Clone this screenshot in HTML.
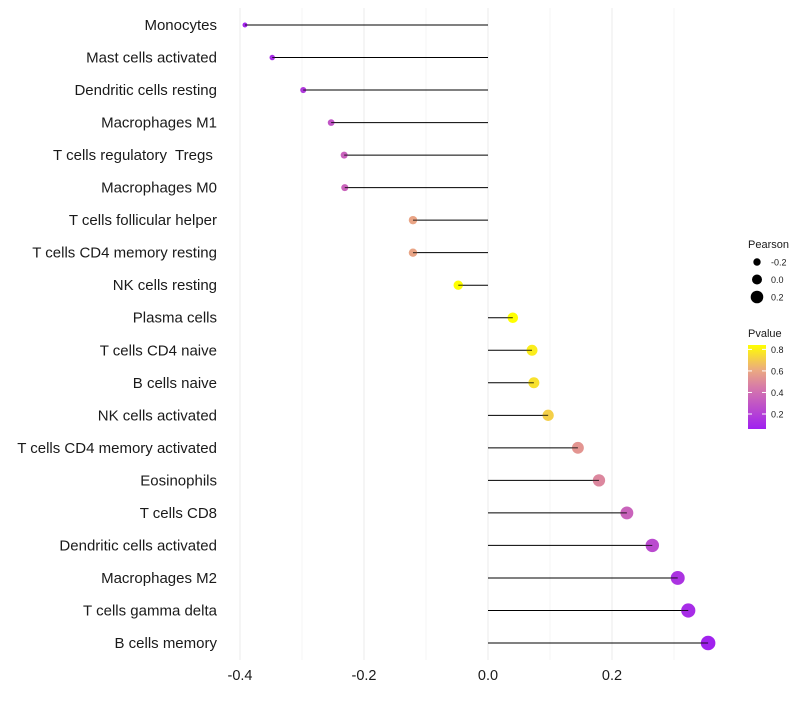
<!DOCTYPE html>
<html><head><meta charset="utf-8"><style>
body{margin:0;background:#fff;font-family:"Liberation Sans",sans-serif}
svg text{font-family:"Liberation Sans",sans-serif;white-space:pre}
</style></head><body>
<svg id="chart" width="800" height="700"></svg>
<script>
const categories=["Monocytes","Mast cells activated","Dendritic cells resting","Macrophages M1","T cells regulatory  Tregs ","Macrophages M0","T cells follicular helper","T cells CD4 memory resting","NK cells resting","Plasma cells","T cells CD4 naive","B cells naive","NK cells activated","T cells CD4 memory activated","Eosinophils","T cells CD8","Dendritic cells activated","Macrophages M2","T cells gamma delta","B cells memory"];
const pearson=[-0.392,-0.348,-0.298,-0.253,-0.232,-0.231,-0.121,-0.121,-0.048,0.040,0.071,0.074,0.097,0.145,0.179,0.224,0.265,0.306,0.323,0.355];
const pvalue=[0.09,0.12,0.18,0.3,0.35,0.36,0.6,0.6,0.85,0.86,0.8,0.77,0.72,0.55,0.5,0.36,0.25,0.15,0.12,0.08];
const xTicks=[-0.4,-0.2,0.0,0.2];
const xTickLabels=["-0.4","-0.2","0.0","0.2"];
const sizeLegend=[-0.2,0.0,0.2];
const colorLegend=[0.8,0.6,0.4,0.2];

const NS="http://www.w3.org/2000/svg";
const svg=document.getElementById('chart');
function mk(t,a,p){const e=document.createElementNS(NS,t);for(const k in a)e.setAttribute(k,a[k]);(p||svg).appendChild(e);return e;}
const x=v=>488+v*620;
const y=i=>25+i*(618/(categories.length-1));
const rad=v=>5+6.5*v;
function lerp(a,b,t){return Math.round(a+(b-a)*t);}
const stops=[[0.07,[160,32,240]],[0.45,[214,120,170]],[0.62,[236,170,128]],[0.85,[255,255,0]]];
function col(p){if(p<=stops[0][0])return 'rgb('+stops[0][1]+')';for(let i=1;i<stops.length;i++){if(p<=stops[i][0]){const t=(p-stops[i-1][0])/(stops[i][0]-stops[i-1][0]);const a=stops[i-1][1],b=stops[i][1];return `rgb(${lerp(a[0],b[0],t)},${lerp(a[1],b[1],t)},${lerp(a[2],b[2],t)})`;}}return 'rgb(255,255,0)';}

const minor=[-0.3,-0.1,0.1,0.3];
minor.forEach(v=>{const g=mk('line',{x1:x(v),x2:x(v),y1:8,y2:660,stroke:'#f4f4f4','stroke-width':1});});
xTicks.forEach((v,i)=>{const g=mk('line',{x1:x(v),x2:x(v),y1:8,y2:660,stroke:'#ebebeb','stroke-width':1});
const t=mk('text',{x:x(v),y:680,'text-anchor':'middle','font-size':14.5,fill:'#1a1a1a'});t.textContent=xTickLabels[i];});

categories.forEach((c,i)=>{
 const t=mk('text',{x:217,y:y(i)+5,'text-anchor':'end','font-size':15,fill:'#1a1a1a','xml:space':'preserve'});t.textContent=c;
 const l=mk('line',{x1:x(0),x2:x(pearson[i]),y1:y(i),y2:y(i),stroke:'#000','stroke-width':1});
 const d=mk('circle',{cx:x(pearson[i]),cy:y(i),r:rad(pearson[i]),fill:col(pvalue[i])});
 const l2=mk('line',{x1:x(pearson[i])-(pearson[i]<0?-1:1)*rad(pearson[i]),x2:x(pearson[i]),y1:y(i),y2:y(i),stroke:'#000','stroke-width':1,opacity:0.8});
});

const lt=mk('text',{x:748,y:248,'font-size':11,fill:'#1a1a1a'});lt.textContent='Pearson';
sizeLegend.forEach((v,i)=>{const cy=262+i*17.5;const c=mk('circle',{cx:757,cy:cy,r:rad(v),fill:'#000'});
const t=mk('text',{x:771,y:cy+3.5,'font-size':9,fill:'#1a1a1a'});t.textContent=v.toFixed(1);});
const pt=mk('text',{x:748,y:337,'font-size':11,fill:'#1a1a1a'});pt.textContent='Pvalue';
const defs=mk('defs',{});const gr=mk('linearGradient',{id:'pg',x1:0,y1:1,x2:0,y2:0},defs);
for(let k=0;k<=10;k++){const p=0.07+k*0.078;mk('stop',{offset:k/10,'stop-color':col(p)},gr);}
const bar=mk('rect',{x:748,y:345,width:18,height:84,fill:'url(#pg)'});
colorLegend.forEach(v=>{const cy=428-(v-0.07)/0.78*84;
mk('line',{x1:748,x2:752,y1:cy,y2:cy,stroke:'#fff'});mk('line',{x1:762,x2:766,y1:cy,y2:cy,stroke:'#fff'});
const t=mk('text',{x:771,y:cy+3.5,'font-size':9,fill:'#1a1a1a'});t.textContent=v.toFixed(1);});
</script>
</body></html>
